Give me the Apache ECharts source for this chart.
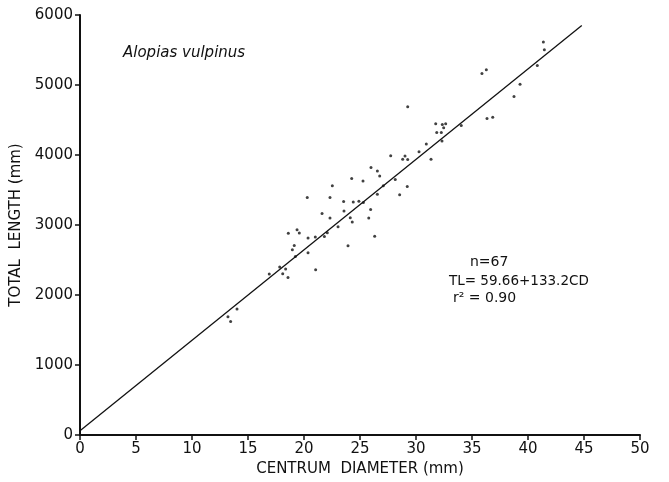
<!DOCTYPE html>
<html>
<head>
<meta charset="utf-8">
<script src="https://cdn.jsdelivr.net/npm/echarts@6/dist/echarts.min.js"></script>
<style>html,body{margin:0;padding:0;background:#fff}#c{width:669px;height:482px}</style>
</head>
<body>
<div id="c"></div>
<script>
// Centrum diameter (mm)
const cd = [41.37,41.46,40.83,35.89,36.28,39.29,38.75,29.26,36.34,36.85,31.76,32.35,32.65,32.47,31.85,32.26,34.04,32.32,30.92,30.27,29.02,28.81,29.26,31.34,27.74,25.98,26.55,26.76,28.15,25.27,24.26,22.53,22.32,27.08,29.22,26.55,28.54,23.54,24.4,24.9,25.3,23.57,25.95,22.32,24.13,24.31,25.78,23.04,26.31,23.93,20.29,21.61,18.6,19.38,19.58,20.36,21.01,21.82,22.08,19.13,18.96,19.23,20.36,17.83,16.9,18.36,18.1,18.57,21.04,14.02,13.21,13.45];
// Total length (mm)
const tl = [5616,5503,5279,5166,5218,5009,4834,4688,4522,4540,4446,4436,4446,4389,4323,4323,4422,4199,4156,4048,3985,3939,3934,3939,3991,3820,3773,3701,3649,3630,3664,3559,3394,3559,3550,3441,3431,3337,3330,3340,3320,3199,3223,3100,3104,3043,3100,2976,2840,2702,3394,3166,2882,2933,2886,2815,2830,2834,2891,2706,2645,2550,2602,2399,2299,2370,2303,2251,2360,1801,1688,1621];
// Fitted line end points as drawn
const lineX = [0, 44.8];
const lineY = [59.66, 5850];
const xTicks = [0,5,10,15,20,25,30,35,40,45,50];
const yTicks = [0,1000,2000,3000,4000,5000,6000];

const chart = echarts.init(document.getElementById('c'));
const font = '"DejaVu Sans", sans-serif';
chart.setOption({
  animation: false,
  backgroundColor: '#fff',
  grid: {left: 80, right: 29, top: 15, bottom: 45},
  xAxis: {
    type: 'value', min: 0, max: 50, interval: 5,
    name: 'CENTRUM  DIAMETER (mm)', nameLocation: 'middle', nameGap: 27,
    nameTextStyle: {color: '#111', fontSize: 15, fontFamily: font},
    axisLine: {lineStyle: {color: '#111', width: 2}},
    axisTick: {show: true, length: 5, lineStyle: {color: '#111', width: 1.5}},
    axisLabel: {color: '#111', fontSize: 15, fontFamily: font, margin: 7,
      formatter: v => xTicks.includes(v) ? String(v) : ''},
    splitLine: {show: false}
  },
  yAxis: {
    type: 'value', min: 0, max: 6000, interval: 1000,
    name: 'TOTAL  LENGTH (mm)', nameLocation: 'middle', nameGap: 56,
    nameTextStyle: {color: '#111', fontSize: 15, fontFamily: font},
    axisLine: {lineStyle: {color: '#111', width: 2}},
    axisTick: {show: true, length: 5, lineStyle: {color: '#111', width: 1.5}},
    axisLabel: {color: '#111', fontSize: 15, fontFamily: font, margin: 7,
      formatter: v => yTicks.includes(v) ? String(v) : ''},
    splitLine: {show: false}
  },
  series: [
    {type: 'scatter', data: cd.map((x, i) => [x, tl[i]]), symbol: 'circle', symbolSize: 3,
      itemStyle: {color: '#111'}, z: 3},
    {type: 'line', data: lineX.map((x, i) => [x, lineY[i]]), symbol: 'none',
      lineStyle: {color: '#111', width: 1.3}, z: 2}
  ],
  graphic: [
    {type: 'text', left: 123, top: 46, style: {text: 'Alopias vulpinus', fontSize: 15, fontStyle: 'italic', fontFamily: font, fill: '#111'}},
    {type: 'text', left: 470, top: 255, style: {text: 'n=67', fontSize: 14, fontFamily: font, fill: '#111'}},
    {type: 'text', left: 449, top: 274, style: {text: 'TL= 59.66+133.2CD', fontSize: 13.5, fontFamily: font, fill: '#111'}},
    {type: 'text', left: 453, top: 291, style: {text: 'r² = 0.90', fontSize: 14, fontFamily: font, fill: '#111'}}
  ]
});
</script>
</body>
</html>
